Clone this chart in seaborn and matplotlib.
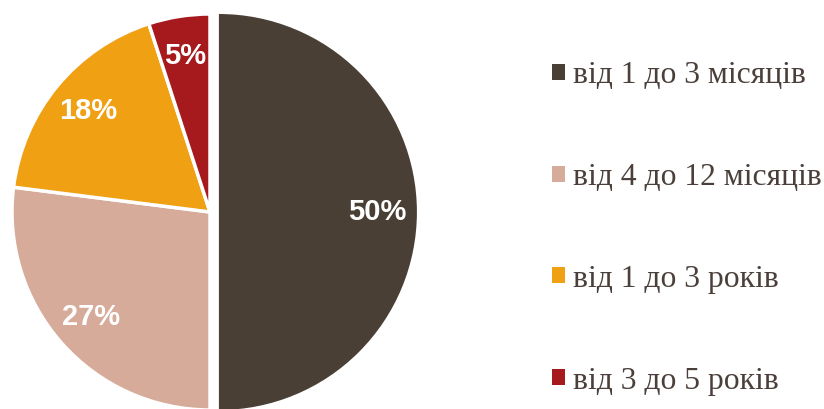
import matplotlib
matplotlib.use("Agg")
import matplotlib.pyplot as plt
from matplotlib.patches import Patch
import seaborn as sns

categories = ["від 1 до 3 місяців", "від 4 до 12 місяців", "від 1 до 3 років", "від 3 до 5 років"]
values = [50, 27, 18, 5]
labels = ["50%", "27%", "18%", "5%"]
colors = ["#4A3F35", "#D6AB9A", "#F0A013", "#A6191D"]

sns.set_theme(style="white")
plt.rcParams['font.family'] = ['Liberation Sans', 'DejaVu Sans']

W, H = 824, 409
fig = plt.figure(figsize=(W / 100, H / 100), dpi=100)
ax = fig.add_axes([0, 0, 1, 1])

wedges, texts = ax.pie(
    values, colors=colors, startangle=90, counterclock=False,
    center=(210, H - 212), radius=198,
    explode=[0.045 * 198, 0, 0, 0],
    labels=labels, labeldistance=0.8,
    wedgeprops=dict(edgecolor='white', linewidth=2.5),
    textprops=dict(color='white', fontsize=21, fontweight='bold'),
    frame=True,
)
for t in texts:
    t.set_ha('center'); t.set_va('center')
wedges[0].set_linewidth(0)
ax.set_xlim(0, W)
ax.set_ylim(0, H)
ax.set_aspect('equal')
ax.axis('off')

handles = [Patch(facecolor=c, edgecolor='none') for c in colors]
leg = fig.legend(handles, categories, loc='upper left',
                 bbox_to_anchor=(552 / W, 1 - 61 / H),
                 frameon=False, prop={'family': 'Liberation Serif', 'size': 22.8},
                 labelcolor='#4A3F3A', handlelength=0.4, handleheight=0.4,
                 handletextpad=0.27, labelspacing=2.3, borderaxespad=0, borderpad=0)

fig.savefig("out.png", dpi=100)
